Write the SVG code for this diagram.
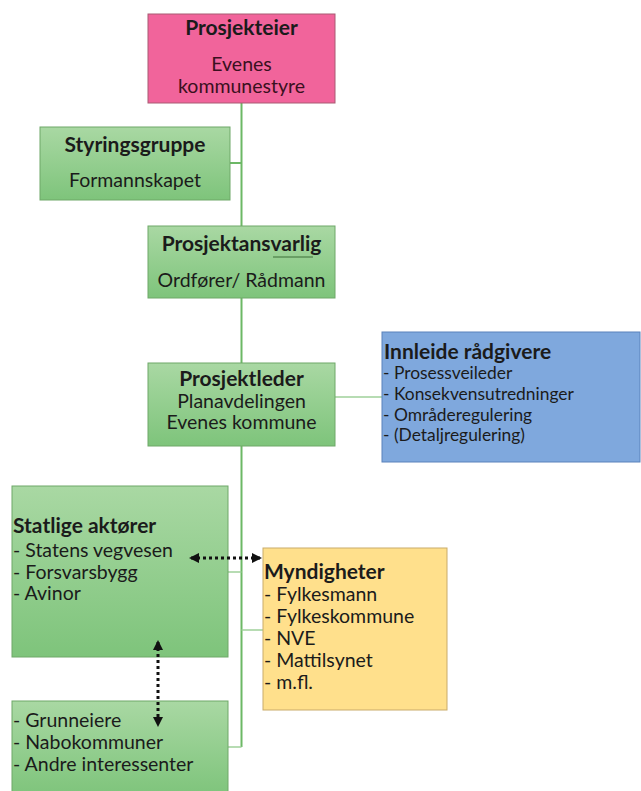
<svg xmlns="http://www.w3.org/2000/svg" width="641" height="791" viewBox="0 0 641 791">
<defs>
<linearGradient id="gg" x1="0" y1="0" x2="0" y2="1">
<stop offset="0" stop-color="#a9d8a3"/>
<stop offset="1" stop-color="#7ec47b"/>
</linearGradient>
<marker id="ah" viewBox="0 0 10 10" refX="8" refY="5" markerWidth="3.4" markerHeight="3.4" orient="auto-start-reverse">
<path d="M0,0 L10,5 L0,10 z" fill="#111"/>
</marker>
</defs>
<style>
text{font-family:Lato,"Open Sans","Liberation Sans",sans-serif;fill:#1b1b1b;font-size:19.5px}
.t{font-weight:bold;font-size:21px}
.s{font-size:17.4px}
.c{text-anchor:middle}
.g{fill:url(#gg);stroke:#6ea868;stroke-width:1}
.line{stroke:#6cb865;stroke-width:2;fill:none}
.thin{stroke:#9fd09a;stroke-width:1.5;fill:none}
.dot{stroke:#111;stroke-width:3;stroke-dasharray:3 3;fill:none}
</style>
<rect width="641" height="791" fill="#fff"/>
<g id="connectors">
<line class="line" x1="241.5" y1="103" x2="241.5" y2="747"/>
<line class="line" x1="230" y1="163" x2="241.5" y2="163"/>
<line class="thin" x1="335" y1="397" x2="382" y2="397"/>
<line class="thin" x1="228" y1="572" x2="241.5" y2="572"/>
<line class="thin" x1="241.5" y1="630" x2="263" y2="630"/>
<line class="thin" x1="228" y1="747" x2="241.5" y2="747"/>
</g>
<g id="prosjekteier">
<rect x="148" y="14" width="187" height="89" fill="#f1649b" stroke="#a85a72" stroke-width="1"/>
<text class="t c" x="241.5" y="35">Prosjekteier</text>
<text class="c" x="241.5" y="71" style="fill:#3a1020">Evenes</text>
<text class="c" x="241.5" y="93" style="fill:#3a1020">kommunestyre</text>
</g>
<g id="styringsgruppe">
<rect class="g" x="40" y="127" width="190" height="73"/>
<text class="t c" x="135" y="152">Styringsgruppe</text>
<text class="c" x="135" y="187">Formannskapet</text>
</g>
<g id="prosjektansvarlig">
<rect class="g" x="148" y="226" width="187" height="72"/>
<text class="t c" x="241.5" y="251">Prosjektansvarlig</text>
<line x1="273" y1="257" x2="313" y2="257" stroke="#3c6e38" stroke-width="1"/>
<text class="c" x="241.5" y="287">Ordfører/ Rådmann</text>
</g>
<g id="prosjektleder">
<rect class="g" x="148" y="363" width="187" height="83"/>
<text class="t c" x="241.5" y="386">Prosjektleder</text>
<text class="c" x="241.5" y="408">Planavdelingen</text>
<text class="c" x="241.5" y="429">Evenes kommune</text>
</g>
<g id="innleide">
<rect x="382" y="332" width="258" height="130" fill="#7fa8dd" stroke="#5a82bb" stroke-width="1"/>
<text class="t" x="384" y="359">Innleide rådgivere</text>
<text class="s" x="383" y="379">- Prosessveileder</text>
<text class="s" x="383" y="399.5">- Konsekvensutredninger</text>
<text class="s" x="383" y="420.5">- Områderegulering</text>
<text class="s" x="383" y="441">- (Detaljregulering)</text>
</g>
<g id="statlige">
<rect class="g" x="12" y="486" width="216" height="171"/>
<text class="t" x="13" y="533">Statlige aktører</text>
<text x="13" y="557">- Statens vegvesen</text>
<text x="13" y="579">- Forsvarsbygg</text>
<text x="13" y="600">- Avinor</text>
</g>
<g id="myndigheter">
<rect x="263" y="548" width="184" height="162" fill="#ffe08c" stroke="#c9ab6a" stroke-width="1"/>
<text class="t" x="264" y="579">Myndigheter</text>
<text x="264" y="601">- Fylkesmann</text>
<text x="264" y="623">- Fylkeskommune</text>
<text x="264" y="645">- NVE</text>
<text x="264" y="667">- Mattilsynet</text>
<text x="264" y="689">- m.fl.</text>
</g>
<g id="grunneiere">
<rect class="g" x="12" y="701" width="216" height="95"/>
<text x="13" y="727">- Grunneiere</text>
<text x="13" y="749">- Nabokommuner</text>
<text x="13" y="771">- Andre interessenter</text>
</g>
<g id="dotted-arrows">
<line class="dot" x1="191" y1="558" x2="260" y2="558" marker-start="url(#ah)" marker-end="url(#ah)"/>
<line class="dot" x1="158" y1="642" x2="158" y2="725" marker-start="url(#ah)" marker-end="url(#ah)"/>
</g>
</svg>
